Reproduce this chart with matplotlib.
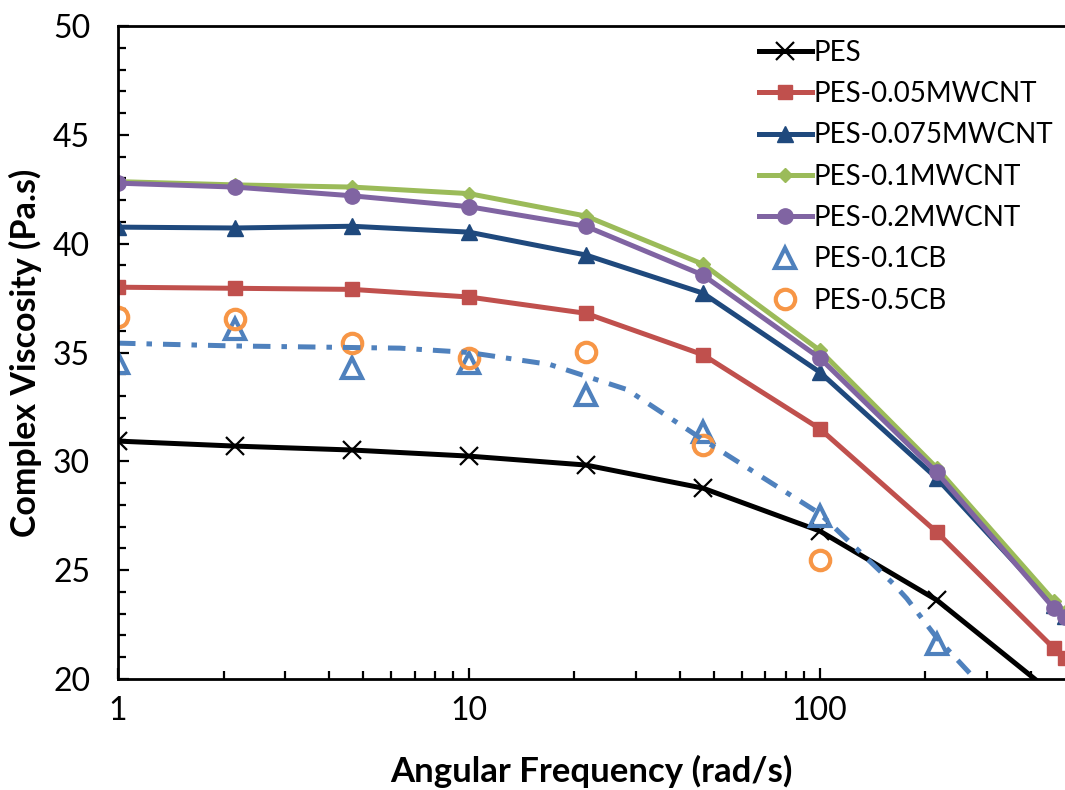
import matplotlib
matplotlib.use("Agg")
import matplotlib.pyplot as plt
from matplotlib.ticker import FixedLocator, NullFormatter, MultipleLocator

# ---- data ----
freq = [1, 2.154, 4.642, 10, 21.54, 46.42, 100, 215.4, 464.2, 500]
pes = [30.93, 30.70, 30.52, 30.24, 29.83, 28.77, 26.80, 23.63, 19.3]
pes_005 = [38.0, 37.95, 37.9, 37.55, 36.8, 34.9, 31.5, 26.75, 21.42, 20.96]
pes_0075 = [40.76, 40.72, 40.8, 40.53, 39.48, 37.73, 34.1, 29.23, 23.4, 22.9]
pes_01 = [42.85, 42.7, 42.6, 42.3, 41.27, 39.06, 35.1, 29.7, 23.6, 23.1]
pes_02 = [42.78, 42.6, 42.2, 41.7, 40.8, 38.56, 34.75, 29.5, 23.26, 22.85]
pes_01cb = [34.5, 36.1, 34.3, 34.5, 33.05, 31.35, 27.5, 21.6]
pes_05cb = [36.63, 36.54, 35.43, 34.75, 35.02, 30.75, 25.47]
# dash-dot trendline of PES-0.1CB
trend_x = [1, 2.154, 6.36, 10, 17.0, 28.2, 46.42, 100, 161.5, 177, 215.4, 267.5, 290]
trend_y = [35.43, 35.3, 35.2, 35.0, 34.45, 33.3, 31.0, 27.6, 24.4, 23.7, 21.9, 20.27, 19.2]

labels = ["PES", "PES-0.05MWCNT", "PES-0.075MWCNT", "PES-0.1MWCNT",
          "PES-0.2MWCNT", "PES-0.1CB", "PES-0.5CB"]
x_ticks = [1, 10, 100]
x_ticklabels = ["1", "10", "100"]
y_ticks = [20, 25, 30, 35, 40, 45, 50]

FONT = "Lato"
plt.rcParams['font.family'] = [FONT, 'DejaVu Sans']

fig = plt.figure(figsize=(10.65, 7.90), dpi=100)
ax = fig.add_axes([118/1065, 1-679/790, 1-118/1065, (679-26)/790])

lw = 3.6
ax.plot(freq[:len(pes)], pes, color="black", lw=lw, marker="x", ms=13, mew=1.6,
        mec="black", label=labels[0])
ax.plot(freq, pes_005, color="#C0504D", lw=lw, marker="s", ms=10, label=labels[1])
ax.plot(freq, pes_0075, color="#1F497D", lw=lw, marker="^", ms=11, label=labels[2])
ax.plot(freq, pes_01, color="#9BBB59", lw=lw, marker="D", ms=7, label=labels[3])
ax.plot(freq, pes_02, color="#8064A2", lw=lw, marker="o", ms=11, label=labels[4])
ax.plot(freq[:len(pes_01cb)], pes_01cb, ls="none", marker="^", ms=14, mfc="none",
        mec="#4F81BD", mew=3.0, label=labels[5])
ax.plot(freq[:len(pes_05cb)], pes_05cb, ls="none", marker="o", ms=14, mfc="none",
        mec="#F79646", mew=3.0, label=labels[6])
ax.plot(trend_x, trend_y, color="#4F81BD", lw=3.6, ls=(0, (3.5, 2.2, 1.1, 2.2)))

ax.set_xscale("log")
ax.set_xlim(1, 500)
ax.set_ylim(20, 50)
ax.xaxis.set_major_locator(FixedLocator(x_ticks))
ax.set_xticklabels(x_ticklabels)
ax.xaxis.set_minor_locator(FixedLocator([2, 3, 4, 5, 6, 7, 8, 9, 20, 30, 40, 50, 60, 70, 80, 90, 200, 300, 400]))
ax.xaxis.set_minor_formatter(NullFormatter())
ax.yaxis.set_major_locator(FixedLocator(y_ticks))
ax.yaxis.set_minor_locator(MultipleLocator(1))

for s in ["left", "bottom", "top"]:
    ax.spines[s].set_linewidth(2.0)
    ax.spines[s].set_color("black")
ax.spines["right"].set_visible(False)

ax.tick_params(axis="both", which="major", direction="in", length=8, width=1.6,
               labelsize=23)
ax.tick_params(axis="both", which="minor", direction="in", length=6, width=1.6)
ax.tick_params(axis="x", which="major", pad=12)
ax.tick_params(axis="y", which="major", pad=20)

ax.set_xlabel("Angular Frequency (rad/s)", fontsize=25, fontweight="bold", labelpad=21)
ax.set_ylabel("Complex Viscosity (Pa.s)", fontsize=24.5, fontweight="bold", labelpad=8)

leg = ax.legend(loc="upper left", bbox_to_anchor=(745/1065, 1-26/790),
                bbox_transform=fig.transFigure, frameon=False, fontsize=20,
                handlelength=1.9, handletextpad=0.05, labelspacing=0.55,
                borderpad=0.0)

fig.savefig("out.png", dpi=100)
